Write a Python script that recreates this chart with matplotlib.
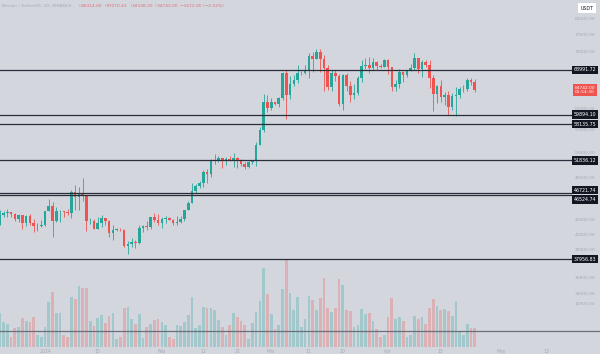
import numpy as np
import pandas as pd
import matplotlib
matplotlib.use('Agg')
from matplotlib import pyplot as plt
import matplotlib.dates as mdates
from matplotlib.transforms import blended_transform_factory, offset_copy

# daily BTC/USDT candles, 2023-12-20 .. 2024-04-24
dates = pd.date_range('2023-12-20', '2024-04-24', freq='D')

opens = [42230, 43660, 43860, 43990, 43730, 43010, 43580, 42510, 43430, 42580, 42070, 42140,
         42280, 44180, 44950, 42850, 44150, 44160, 43970, 43930, 46970, 46120, 46650, 46340,
         42780, 42840, 41730, 42510, 43150, 42740, 41260, 41620, 41660, 41570, 39500, 39850,
         40080, 39930, 41820, 42120, 42030, 43300, 42940,
         42580, 43080, 43190, 43000, 42580, 42700, 43090, 44340, 45290, 47130, 47750, 48290,
         49960, 49700, 51800, 51940, 52160, 51660, 52120, 51780, 52280, 51840, 51300, 50730,
         51570, 51730, 54480, 57040, 62430,
         61130, 62390, 61990, 63110, 68250, 63720, 66070, 66850, 68280, 68370, 68920, 72130,
         71480, 73060, 71380, 69480, 65300, 68390, 67610, 61930, 67840, 65500, 63800, 64100,
         67210, 69880, 69990, 69450, 70780, 69850, 69580,
         71280, 69650, 65460, 65960, 68490, 67820, 68900, 69360, 71620, 69120, 70630, 70010,
         67190, 63920, 65660, 63420, 63790, 61280, 63470, 63820, 64940, 64940, 66840, 66414]
highs = [44280, 44240, 44400, 44000, 43950, 43800, 43600, 43680, 43800, 43130, 42600, 42900,
         44190, 45900, 45500, 44730, 44350, 44230, 44500, 47250, 47900, 47700, 49050, 46500,
         43260, 43080, 43400, 43570, 43200, 42930, 42200, 41870, 41880, 41670, 40130, 40550,
         40300, 42220, 42200, 42840, 43300, 43880, 43740,
         43290, 43480, 43380, 43120, 43540, 43420, 44370, 45600, 48200, 48170, 48590, 50330,
         50370, 52040, 52820, 52570, 52190, 52370, 52490, 52980, 52370, 52000, 51550, 51700,
         51960, 54920, 57550, 63930, 63680,
         63110, 62430, 63230, 68500, 69000, 67640, 67990, 69990, 68640, 69980, 72800, 72890,
         73650, 73780, 72420, 70050, 68920, 68930, 68120, 68100, 68240, 66650, 65970, 67620,
         71150, 71560, 71770, 71550, 70900, 70330, 71370,
         71340, 69680, 66900, 69290, 68720, 69000, 70300, 72800, 71740, 71170, 71260, 71230,
         67930, 65840, 66870, 64360, 64490, 64130, 65450, 65390, 65700, 67230, 67200, 67070.43]
lows = [42200, 43300, 43400, 43300, 42750, 42720, 41680, 42100, 42300, 41300, 41520, 41970,
        42190, 44180, 40750, 42620, 42620, 43400, 43580, 43200, 44300, 44300, 45600, 41500,
        42440, 41720, 41720, 42050, 42200, 40680, 40280, 41500, 41500, 39430, 38550, 39480,
        39260, 39820, 41400, 41620, 41800, 42680, 42270,
        41880, 42580, 42880, 42220, 42260, 42580, 42790, 44330, 45240, 46800, 47540, 47710,
        48300, 49260, 51300, 51620, 50630, 51160, 51680, 50760, 50630, 50930, 50520, 50580,
        51280, 50900, 54450, 56700, 60370,
        60780, 61660, 61320, 62770, 59000, 62850, 65550, 66100, 67920, 68120, 67190, 68620,
        71330, 68550, 64530, 64780, 64530, 66600, 61500, 60780, 64530, 62260, 63000, 63790,
        66390, 69280, 68380, 68900, 69060, 69500, 69560,
        68060, 64550, 64490, 65060, 66500, 67450, 68790, 69040, 68210, 67520, 69560, 65090,
        60660, 62130, 62300, 61710, 59770, 60800, 59600, 63090, 64270, 64500, 65800, 64348]
closes = opens[1:] + [64742]

# volume, relative units
volumes = [34, 25, 23, 10, 19, 20, 29, 26, 25, 30, 12, 10,
           20, 45, 55, 34, 34, 12, 10, 50, 48, 61, 59, 59, 26, 21, 29, 32, 24, 31, 34, 8,
           10, 39, 40, 28, 23, 33, 9, 20, 23, 27, 28,
           25, 22, 10, 8, 22, 21, 25, 32, 50, 19, 22, 40, 39, 39, 37, 27, 20, 12, 22, 34,
           30, 26, 22, 8, 24, 35, 46, 79, 53,
           33, 18, 22, 58, 88, 54, 37, 50, 20, 28, 51, 47, 37, 49, 69, 39, 35, 39, 68, 62,
           37, 36, 20, 22, 38, 33, 34, 26, 18, 10, 12,
           30, 49, 28, 30, 26, 10, 12, 31, 28, 30, 23, 39, 48, 41, 37, 38, 36, 31, 46, 15,
           12, 23, 19, 19]

levels = [68991.72, 59894.10, 58135.75, 51836.12, 46721.74, 46524.74, 37956.83]
price_ticks = [81000, 77000, 73000, 61000, 57000, 53000, 49000, 43000, 41000, 39000,
               35800, 34000, 32900]
date_ticks = ['2024-01-01', '2024-01-15', '2024-02-01', '2024-02-12', '2024-02-21', '2024-03-01',
              '2024-03-11', '2024-03-20', '2024-04-01', '2024-04-15', '2024-05-01', '2024-05-13']
date_labels = ['2024', '15', 'Feb', '12', '21', 'Mar', '11', '20', 'Apr', '15', 'May', '13']

bg = '#d4d6de'
green = '#26a69a'
red = '#ef5350'
faded = '#a7aab3'

x = mdates.date2num(dates)
o = np.array(opens, float)
c = np.array(closes, float)
h = np.array(highs, float)
l = np.array(lows, float)
up = c >= o
cols = np.where(up, green, red)

fig = plt.figure(figsize=(6, 3.54), dpi=100)
fig.patch.set_facecolor(bg)
rect = [0, 7 / 354, 572 / 600, 347 / 354]
x0 = mdates.date2num(pd.Timestamp('2024-01-01'))
xlim = (x0 - 45 / 3.77, x0 + 527 / 3.77)

# volume pane underneath
vax = fig.add_axes(rect)
vax.set_facecolor(bg)
vax.bar(x, volumes, width=0.72, color=cols, alpha=0.28, linewidth=0)
vax.set_ylim(0, 347)
vax.set_xlim(*xlim)
vax.axis('off')

ax = fig.add_axes(rect)
ax.patch.set_visible(False)
ax.set_yscale('log')
ax.set_ylim(28750, 86030)
ax.set_xlim(*xlim)

ax.vlines(x, l, h, colors=cols, linewidth=0.6)
body = np.maximum(np.abs(c - o), c * 0.0015)
ax.bar(x, body, bottom=np.minimum(o, c), width=0.7, color=cols, linewidth=0)

for lv in levels:
    ax.axhline(lv, color='#2a2e39', linewidth=0.9, zorder=3)

for s in ax.spines.values():
    s.set_visible(False)
ax.set_yticks([])
ax.set_yticks([], minor=True)
ax.set_xticks(mdates.date2num(pd.to_datetime(date_ticks)))
ax.set_xticklabels(date_labels)
ax.tick_params(axis='x', length=0, pad=1.5, labelsize=3.3, labelcolor=faded)

tr = blended_transform_factory(ax.transAxes, ax.transData)
lab_x = 585 / 572
for p in price_ticks:
    ax.text(lab_x, p, '%.2f' % p, transform=tr, ha='center', va='center',
            fontsize=3.2, color=faded, clip_on=False)
# the two close labels are pushed apart so both stay readable
shift = {46721.74: 3, 46524.74: -5}
for lv in levels:
    t = offset_copy(tr, fig=fig, y=shift.get(lv, 0), units='dots')
    ax.text(lab_x, lv, '%.2f' % lv, transform=t, ha='center', va='center',
            fontsize=3.4, color='white', clip_on=False, zorder=5,
            bbox=dict(boxstyle='square,pad=0.35', fc='#131722', ec='none'))
ax.text(lab_x, closes[-1], '%.2f\n05:54:30' % closes[-1], transform=tr, ha='center',
        va='center', fontsize=3.2, color='white', clip_on=False, zorder=5, linespacing=1.3,
        bbox=dict(boxstyle='square,pad=0.4', fc=red, ec='none'))

# pane separator
fig.add_artist(plt.Line2D([0, 1], [1 - 331 / 354] * 2, color='#6b6f7a', linewidth=0.9))

# header
fig.text(2 / 600, 1 - 6 / 354, 'Bitcoin / TetherUS, 1D, BINANCE', fontsize=3.2,
         color=faded, va='center')
head = [('O', 79), ('66414.00', 81.5), ('H', 104.5), ('67070.43', 107), ('L', 130.5),
        ('64348.00', 133), ('C', 155), ('64742.00', 157.5), ('\u22121672.00 (\u22122.52%)', 179.5)]
for t, px in head:
    fig.text(px / 600, 1 - 6 / 354, t, fontsize=3.2, va='center',
             color=faded if len(t) == 1 else '#e0707a')
fig.text(587 / 600, 1 - 8 / 354, 'USDT', fontsize=3.4, color='#131722', ha='center',
         va='center', bbox=dict(boxstyle='square,pad=0.6', fc='white', ec='none'))

fig.savefig('out.png', dpi=100, facecolor=bg)
